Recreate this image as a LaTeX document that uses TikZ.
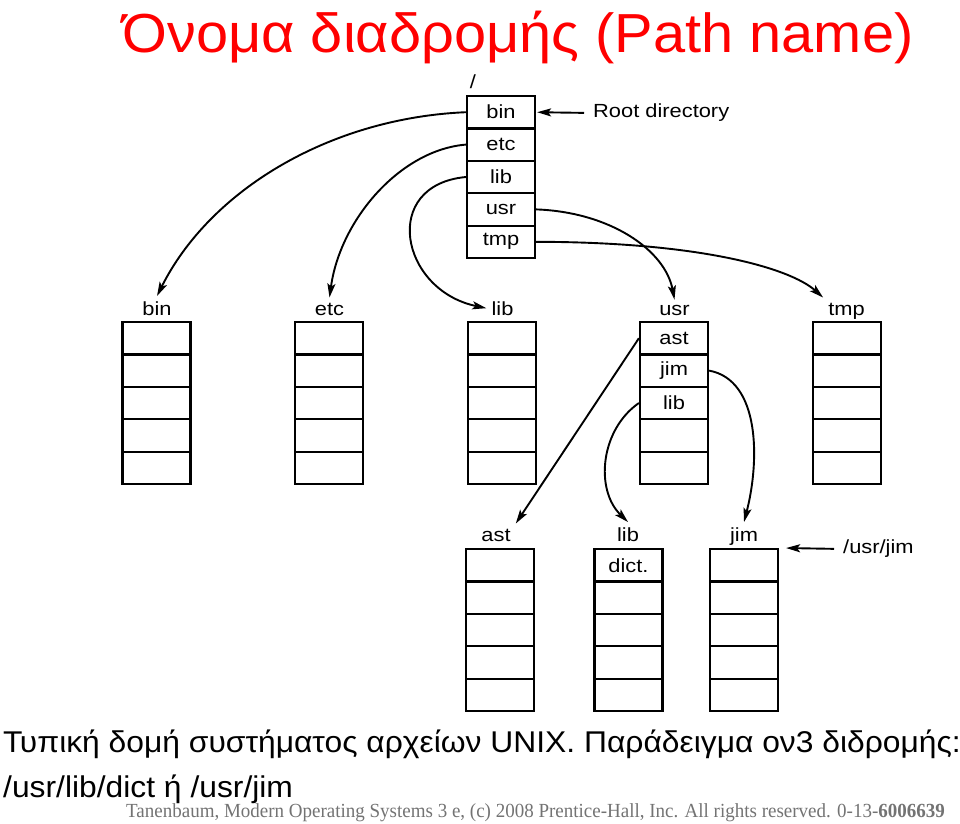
\documentclass[tikz,border=0pt]{standalone}
\usepackage{fontspec}
\setmainfont{Liberation Sans}
\newfontfamily\figfont[FakeStretch=1.15]{Liberation Sans}
\newfontfamily\headfont[FakeStretch=1.05]{Liberation Sans}
\newfontfamily\capfont[FakeStretch=1.06]{Liberation Sans}
\newfontfamily\notefont[FakeStretch=0.95]{Liberation Serif}
\usetikzlibrary{arrows.meta}
\tikzstyle{entry}=[rectangle,draw,line width=2.2pt,minimum width=68pt,minimum height=32.4pt,inner sep=0pt,font=\figfont\fontsize{19}{21}\selectfont]
\tikzstyle{dname}=[inner sep=5pt,anchor=base,font=\figfont\fontsize{19}{21}\selectfont]
\tikzstyle{ptr}=[line width=1.9pt,-{Stealth[length=14pt,width=8pt,inset=3pt]}]

\begin{document}
\begin{tikzpicture}[x=1pt,y=-1pt,node distance=32.4pt]
  \useasboundingbox (0,0) rectangle (960,823);

  % title and caption
  \node[anchor=base,text=red,font=\headfont\fontsize{55}{60}\selectfont] (title) at (518,52) {Όνομα διαδρομής (Path name)};
  \node[anchor=base west,inner sep=0pt,font=\capfont\fontsize{30}{32}\selectfont] (cap1) at (3,752) {Τυπική δομή συστήματος αρχείων UNIX. Παράδειγμα ον3 διδρομής:};
  \node[anchor=base west,inner sep=0pt,font=\capfont\fontsize{30}{32}\selectfont] (cap2) at (3,797) {/usr/lib/dict ή /usr/jim};
  \node[anchor=base east,inner sep=0pt,text=black!55,font=\notefont\fontsize{20}{22}\selectfont] (credit) at (945,817) {Tanenbaum, Modern Operating Systems 3 e, (c) 2008 Prentice-Hall, Inc. All rights reserved. 0-13-\textbf{6006639}};

  % root directory
  \node[dname] (slash) at (473,88) {/};
  \node[entry] (rbin) at (501,112.2) {bin};
  \node[entry] (retc) [below of=rbin] {etc};
  \node[entry] (rlib) [below of=retc] {lib};
  \node[entry] (rusr) [below of=rlib] {usr};
  \node[entry] (rtmp) [below of=rusr] {tmp};
  \node[dname,anchor=west,inner sep=0pt] (rootlbl) at (593,113) {Root directory};
  \draw[ptr,shorten <=9pt,shorten >=1pt] (rootlbl.west) -- (rbin.east);

  % second level
  \foreach \d/\x in {bin/156.5,etc/329,lib/502,tmp/847}
    \foreach \i in {1,...,5}
      \node[entry] (\d\i) at (\x,305.8+32.4*\i) {};
  \node[entry] (usr1) at (674,338.2) {ast};
  \node[entry] (usr2) [below of=usr1] {jim};
  \node[entry] (usr3) [below of=usr2] {lib};
  \node[entry] (usr4) [below of=usr3] {};
  \node[entry] (usr5) [below of=usr4] {};

  \node[dname] (binname) at (157,315) {bin};
  \node[dname] (etcname) at (329.5,315) {etc};
  \node[dname] (libname) at (502.5,315) {lib};
  \node[dname] (usrname) at (674.5,315) {usr};
  \node[dname] (tmpname) at (846.5,315) {tmp};

  % third level
  \foreach \d/\x in {ast/500,jim/744}
    \foreach \i in {1,...,5}
      \node[entry] (\d\i) at (\x,532.8+32.4*\i) {};
  \node[entry] (ulib1) at (628.5,565.2) {dict.};
  \node[entry] (ulib2) [below of=ulib1] {};
  \node[entry] (ulib3) [below of=ulib2] {};
  \node[entry] (ulib4) [below of=ulib3] {};
  \node[entry] (ulib5) [below of=ulib4] {};

  \node[dname] (astname) at (496,541) {ast};
  \node[dname] (ulibname) at (628,541) {lib};
  \node[dname] (jimname) at (744,541) {jim};
  \node[dname,anchor=west,inner sep=0pt] (jimlbl) at (843,549) {/usr/jim};
  \draw[ptr,shorten <=9pt,shorten >=7pt] (jimlbl.west) -- (jim1.north east);

  % pointers
  \draw[ptr] (rbin.west) .. controls (330,118) and (210,190) .. (binname.north);
  \draw[ptr] (retc.west) .. controls (400,150) and (340,220) .. (etcname.north);
  \draw[ptr] (rlib.west) .. controls (380,185) and (400,290) .. (libname.west);
  \draw[ptr] (rusr.east) .. controls (610,212) and (665,250) .. (usrname.north);
  \draw[ptr] (rtmp.east) .. controls (700,242) and (790,268) .. (tmpname.north west);
  \draw[ptr] (usr1.west) -- (astname.north east);
  \draw[ptr] (usr3.west) .. controls (600,430) and (595,490) .. (ulibname.north);
  \draw[ptr] (usr2.east) .. controls (760,380) and (760,460) .. (jimname.north);
\end{tikzpicture}
\end{document}
